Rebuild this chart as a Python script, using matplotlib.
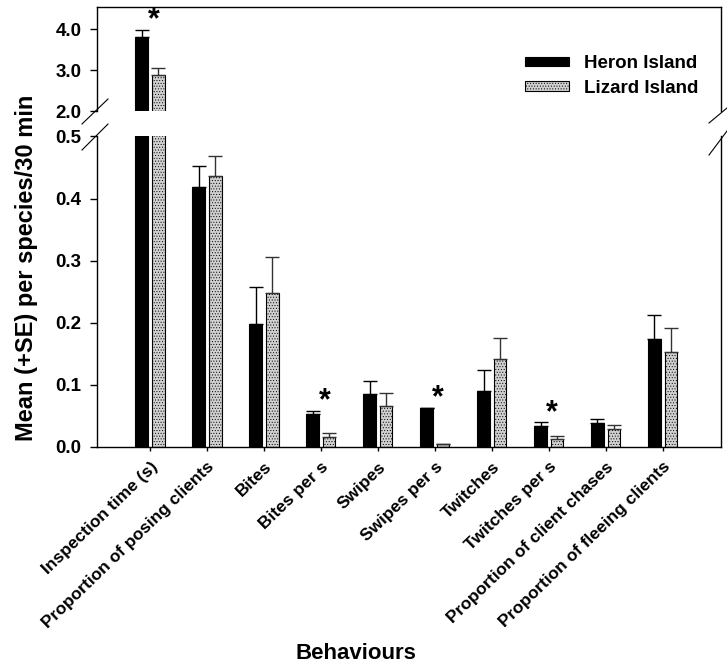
import matplotlib
matplotlib.use("Agg")
import matplotlib.pyplot as plt
from matplotlib.lines import Line2D
import numpy as np

plt.rcParams['font.family'] = ['Liberation Sans', 'DejaVu Sans']
plt.rcParams['font.weight'] = 'bold'
plt.rcParams['hatch.color'] = '#8a8a8a'
plt.rcParams['hatch.linewidth'] = 0.4

categories = ["Inspection time (s)", "Proportion of posing clients", "Bites",
              "Bites per s", "Swipes", "Swipes per s", "Twitches",
              "Twitches per s", "Proportion of client chases",
              "Proportion of fleeing clients"]
heron_mean = [3.80, 0.418, 0.198, 0.052, 0.085, 0.063, 0.090, 0.034, 0.038, 0.174]
heron_se = [0.19, 0.034, 0.060, 0.006, 0.021, 0.0, 0.033, 0.005, 0.007, 0.038]
lizard_mean = [2.88, 0.436, 0.247, 0.015, 0.065, 0.004, 0.142, 0.013, 0.028, 0.153]
lizard_se = [0.18, 0.033, 0.059, 0.007, 0.021, 0.0, 0.033, 0.005, 0.007, 0.039]
significant = [0, 3, 5, 7]

x = np.arange(len(categories))
width = 0.22
offset = 0.146

fig = plt.figure(figsize=(7.27, 6.65), dpi=100)
ax_top = fig.add_axes([0.1334, 0.8326, 0.859, 0.1568])
ax_bot = fig.add_axes([0.1334, 0.3283, 0.859, 0.4665])

for ax in (ax_top, ax_bot):
    ax.bar(x - offset, heron_mean, width, color="black", edgecolor="black",
           linewidth=0.8, label="Heron Island",
           yerr=[np.zeros(len(x)), heron_se], capsize=5,
           error_kw=dict(elinewidth=1, capthick=1, ecolor="black"))
    ax.bar(x + offset, lizard_mean, width, color="#d0d0d0", edgecolor="black",
           linewidth=0.8, hatch="......", label="Lizard Island",
           yerr=[np.zeros(len(x)), lizard_se], capsize=5,
           error_kw=dict(elinewidth=1, capthick=1, ecolor="#333333"))
    ax.set_xlim(-0.93, 10.03)
    ax.tick_params(axis="y", labelsize=13.5, direction="out", length=5,
                   width=1, pad=6)
    for s in ax.spines.values():
        s.set_linewidth(1)

ax_top.set_ylim(2.0, 4.54)
ax_top.set_yticks([2.0, 3.0, 4.0])
ax_top.set_yticklabels(["2.0", "3.0", "4.0"])
ax_top.spines["bottom"].set_visible(False)
ax_top.set_xticks([])

ax_bot.set_ylim(0, 0.5)
ax_bot.set_yticks([0.0, 0.1, 0.2, 0.3, 0.4, 0.5])
ax_bot.set_yticklabels(["0.0", "0.1", "0.2", "0.3", "0.4", "0.5"])
ax_bot.spines["top"].set_visible(False)
ax_bot.set_xticks(x)
ax_bot.set_xticklabels(categories, rotation=44, ha="right",
                       rotation_mode="anchor", fontsize=12.5, fontweight="bold")
ax_bot.tick_params(axis="x", direction="out", length=3, width=1, pad=6)

# asterisks for significant differences
for i in significant:
    top = max(heron_mean[i] + heron_se[i], lizard_mean[i] + lizard_se[i])
    ax = ax_top if top > 0.5 else ax_bot
    ax.annotate("*", (x[i] + 0.06, top), xytext=(0, 6.5), textcoords="offset points",
                ha="center", va="center", fontsize=22, fontweight="bold")

ax_top.legend(loc="center right", frameon=False, fontsize=13.5, handlelength=2.35,
              handleheight=0.4, handletextpad=0.8,
              bbox_to_anchor=(0.99, 0.34), labelspacing=0.4)

# break marks
W, H = 727, 665
for (x0, y0, x1, y1) in [(82, 124, 108, 99), (82, 150, 108, 124),
                         (709, 123, 727, 108), (709, 155, 727, 131)]:
    fig.add_artist(Line2D([x0 / W, x1 / W], [1 - y0 / H, 1 - y1 / H],
                          color="black", linewidth=0.8))

fig.text(0.036, 0.597, "Mean (+SE) per species/30 min", rotation=90,
         ha="center", va="center", fontsize=17, fontweight="bold")
fig.text(0.49, 0.018, "Behaviours", ha="center", va="center",
         fontsize=16, fontweight="bold")

fig.savefig("out.png", dpi=100)
